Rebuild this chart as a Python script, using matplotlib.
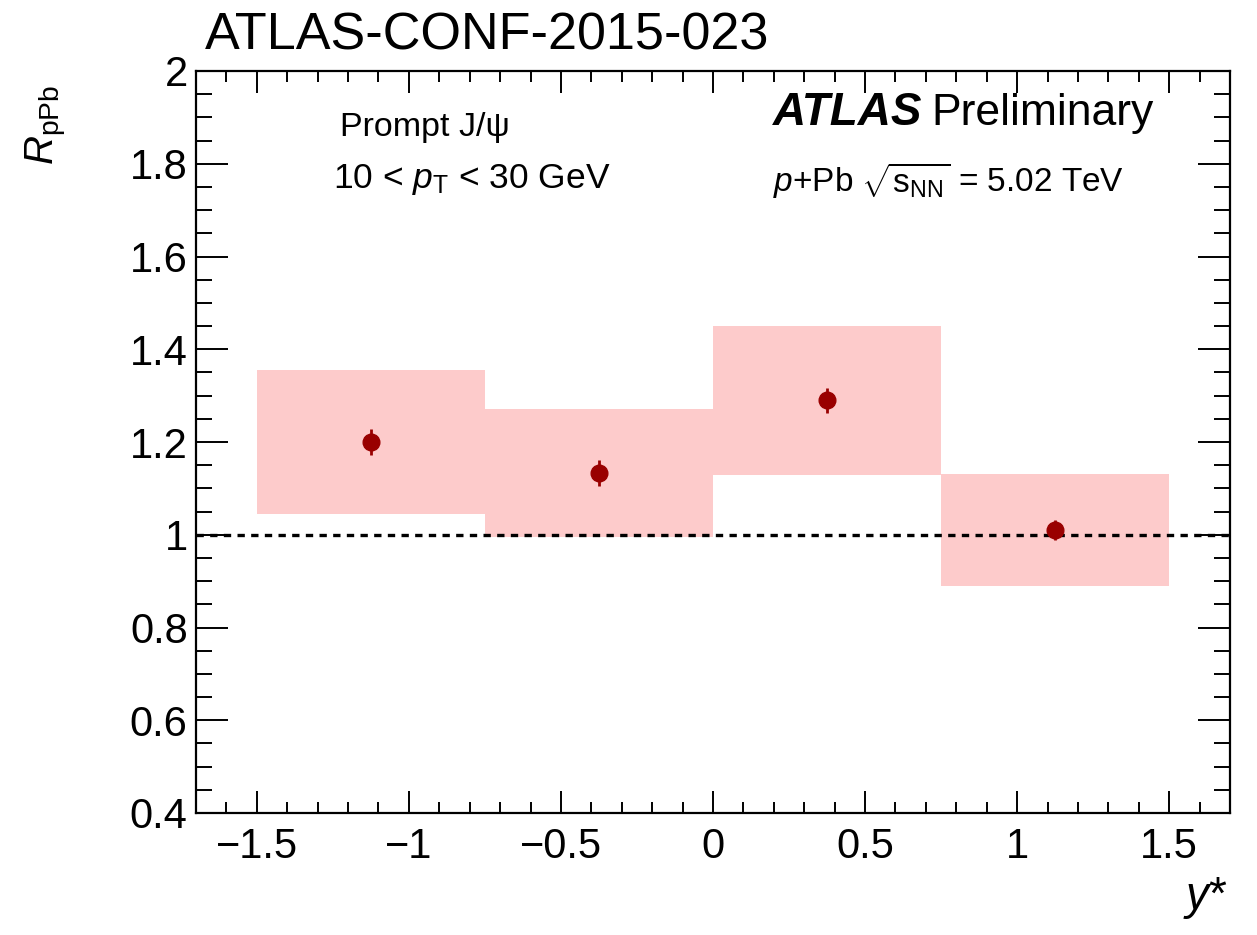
import numpy as np
import matplotlib
matplotlib.use("Agg")
import matplotlib.pyplot as plt
from matplotlib.ticker import MultipleLocator

plt.rcParams["font.family"] = ["Liberation Sans", "DejaVu Sans"]
plt.rcParams["mathtext.fontset"] = "custom"
plt.rcParams["mathtext.rm"] = "Liberation Sans"
plt.rcParams["mathtext.it"] = "Liberation Sans:italic"
plt.rcParams["mathtext.bf"] = "Liberation Sans:bold"

# rapidity bins (y*) and the measured R_pPb
bin_lo = [-1.5, -0.75, 0.0, 0.75]
bin_hi = [-0.75, 0.0, 0.75, 1.5]
rppb = [1.20, 1.133, 1.29, 1.01]
stat_err = [0.027, 0.028, 0.027, 0.022]
# systematic band edges
syst_lo = [1.045, 0.995, 1.128, 0.890]
syst_hi = [1.355, 1.271, 1.451, 1.130]

centers = (np.array(bin_lo) + np.array(bin_hi)) / 2
widths = np.array(bin_hi) - np.array(bin_lo)

W, H = 1257, 935
fig = plt.figure(figsize=(W / 100, H / 100), dpi=100)
ax = fig.add_axes([196 / W, 1 - 813 / H, (1230 - 196) / W, (813 - 71) / H])

# systematic uncertainty boxes
ax.bar(centers, np.array(syst_hi) - np.array(syst_lo), width=widths,
       bottom=syst_lo, color="#fdcbcb", linewidth=0, zorder=1)

# reference line at unity
ax.axhline(1.0, color="black", lw=2.4, ls=(0, (2.2, 1.9)), zorder=2)

# data points with statistical errors
ax.errorbar(centers, rppb, yerr=stat_err, fmt="o", color="#990000",
            ms=12, elinewidth=2, capsize=0, zorder=3)

ax.set_xlim(-1.7, 1.7)
ax.set_ylim(0.4, 2.0)
ax.xaxis.set_minor_locator(MultipleLocator(0.1))
ax.yaxis.set_minor_locator(MultipleLocator(0.05))
ax.set_xticks([-1.5, -1, -0.5, 0, 0.5, 1, 1.5])
ax.set_xticklabels(["\u22121.5", "\u22121", "\u22120.5", "0", "0.5", "1", "1.5"])
ax.set_yticks([0.4, 0.6, 0.8, 1.0, 1.2, 1.4, 1.6, 1.8, 2.0])
ax.set_yticklabels(["0.4", "0.6", "0.8", "1", "1.2", "1.4", "1.6", "1.8", "2"])

ax.tick_params(axis="both", which="both", direction="in", top=True, right=True,
               width=1.4, labelsize=30)
ax.tick_params(axis="x", which="major", length=15.8, pad=10)
ax.tick_params(axis="x", which="minor", length=7.9)
ax.tick_params(axis="y", which="major", length=23, pad=6)
ax.tick_params(axis="y", which="minor", length=11.5)
for s in ax.spines.values():
    s.set_linewidth(1.6)

def fx(px):
    return px / W

def fy(py):
    return 1 - py / H

fig.text(fx(205), fy(50), "ATLAS-CONF-2015-023", fontsize=37.5, va="baseline")
fig.text(fx(340), fy(136), "Prompt J/\u03c8", fontsize=24.5, va="baseline")
fig.text(fx(333), fy(188), r"10 < $p_{\mathrm{T}}$ < 30 GeV", fontsize=25.5, va="baseline")
fig.text(fx(773), fy(125), "ATLAS", fontsize=33, fontweight="bold",
         fontstyle="italic", va="baseline")
fig.text(fx(931), fy(125), "Preliminary", fontsize=32, va="baseline")
fig.text(fx(773), fy(192), r"$p$+Pb $\sqrt{\mathrm{s}_{\mathrm{NN}}}$ = 5.02 TeV",
         fontsize=24, va="baseline")

fig.text(fx(68), fy(85), r"$R_{\mathrm{pPb}}$", fontsize=29, rotation=90,
         ha="right", va="top")
fig.text(fx(1228), fy(909), r"$y$*", fontsize=33, ha="right", va="baseline")

fig.savefig("out.png", dpi=100)
